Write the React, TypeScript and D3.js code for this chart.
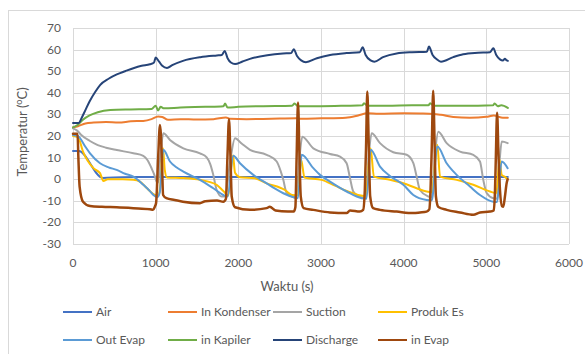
import React, { useEffect, useRef } from 'react';
import * as d3 from 'd3';

// [time (s), temperature (°C)]
const air: [number, number][] = [
  [0, 13], [70, 13], [360, 0.6], [600, 0.9], [1000, 1], [2000, 1], [3000, 1], [4000, 1], [5000, 1], [5260, 1],
];

const inKondenser: [number, number][] = [
  [0, 24], [60, 24.5], [150, 25.8], [250, 26.2], [400, 26.5], [550, 26.2], [700, 26.8], [850, 27], [950, 27.8],
  [1030, 29], [1080, 28.8], [1150, 27.5], [1300, 27.8], [1500, 27.6], [1700, 27.8], [1850, 28.6], [1900, 28],
  [2100, 27.8], [2400, 28], [2700, 28.2], [2760, 28], [3000, 28.2], [3300, 28.5], [3450, 29.5], [3560, 30.5],
  [3700, 30.3], [4000, 30.5], [4200, 30.4], [4360, 30.2], [4450, 29.8], [4600, 28.8], [4800, 28.5], [5000, 28.9],
  [5090, 29.5], [5200, 28.4], [5260, 28.4],
];

const suction: [number, number][] = [
  [0, 23.5], [50, 22.5], [100, 20.5], [200, 17.8], [300, 15.8], [400, 14.6], [530, 13.5], [730, 12], [850, 10.8],
  [900, 8.9], [950, 5.1], [992, 1.2], [1015, -1.5], [1030, -1.5], [1060, 12], [1093, 21.3], [1173, 18.2],
  [1335, 14.3], [1536, 12], [1617, 10.1], [1660, 7], [1697, 2], [1738, -5], [1798, -8], [1840, -8], [1900, 8],
  [1960, 19], [2040, 16.5], [2141, 13.6], [2343, 11.3], [2464, 8.2], [2510, 4], [2544, -0.3], [2580, -6],
  [2650, -8], [2700, -8.5], [2740, 10], [2774, 19.7], [2907, 14.3], [3109, 11.7], [3230, 10.5], [3310, 7.4],
  [3351, 0.5], [3391, -5.7], [3492, -8.3], [3540, -8.5], [3580, 12], [3613, 21.3], [3714, 16.7], [3874, 12.5],
  [4036, 11.3], [4117, 7.4], [4157, 1.2], [4197, -5], [4298, -8], [4340, -8.5], [4380, 12], [4419, 22],
  [4520, 16.7], [4681, 12.8], [4842, 11.3], [4923, 8.2], [4963, -0.3], [5004, -6.4], [5085, -8.8], [5130, -9],
  [5160, 8], [5186, 17.4], [5258, 16.7],
];

const produkEs: [number, number][] = [
  [0, 20], [60, 19.5], [121, 12.8], [250, 5], [327, 2.8], [367, -0.8], [420, 0], [600, 0], [730, -0.2],
  [810, -1.1], [895, -4.2], [992, -7.3], [1030, -7.5], [1050, -5], [1089, 14.3], [1110, 4.3], [1137, 0.8],
  [1335, 0.5], [1536, -0.3], [1738, -2.6], [1818, -5.5], [1880, -7.5], [1935, 11], [1960, 3], [2020, 0.9],
  [2200, 0.4], [2343, -1.9], [2564, -5], [2650, -7.3], [2720, -7.5], [2760, 9], [2800, 0.8], [3008, -0.3],
  [3169, -3], [3327, -5.7], [3448, -7.3], [3540, -7.8], [3600, 14.3], [3640, 1.2], [3834, -0.3], [3996, -1.9],
  [4157, -4.2], [4278, -5.7], [4340, -6], [4407, 15.9], [4440, 1.2], [4641, -0.3], [4842, -2.6], [5044, -5.7],
  [5120, -6.5], [5160, 9], [5186, 2], [5220, 1.2], [5258, 0],
];

const outEvap: [number, number][] = [
  [0, 20.5], [60, 20], [85, 19], [150, 15], [206, 12], [327, 7.4], [430, 5.5], [528, 4.3], [630, 2.5],
  [730, 1.2], [851, -2.6], [930, -5.5], [972, -7.3], [1020, -8.3], [1050, -6], [1093, 13.6], [1173, 8.2],
  [1250, 5.5], [1335, 3.5], [1536, -0.3], [1697, -4.2], [1818, -7.3], [1870, -8], [1939, 10.8], [2020, 7.4],
  [2181, 2], [2343, -1.9], [2450, -4.5], [2544, -6.5], [2680, -8.5], [2720, -8.8], [2766, 11.3], [2907, 5.1],
  [2988, 2], [3109, -1.1], [3310, -5.7], [3492, -8.8], [3550, -9], [3601, 13.6], [3714, 5.8], [3834, 1.5],
  [3996, -2.6], [4117, -7.3], [4278, -9.6], [4340, -9.8], [4407, 15.1], [4520, 7.4], [4641, 2], [4802, -3.4],
  [4923, -7.3], [5085, -10.4], [5130, -10.5], [5186, 8.2], [5258, 5.1],
];

const inKapiler: [number, number][] = [
  [0, 24], [50, 25], [120, 27.5], [200, 29.5], [300, 31], [450, 32], [700, 32.3], [950, 32.5], [1000, 34],
  [1030, 31.8], [1060, 33.5], [1100, 32.8], [1300, 33.2], [1600, 33.5], [1820, 33.8], [1840, 35], [1870, 33.2],
  [2000, 33.5], [2300, 33.8], [2650, 34], [2680, 35], [2720, 33.8], [3000, 33.8], [3300, 34], [3500, 34.2],
  [3520, 35.2], [3560, 34], [3800, 34], [4100, 34.2], [4300, 34.2], [4320, 35.2], [4360, 34], [4600, 34],
  [4900, 34], [5080, 34.2], [5100, 35], [5140, 33.8], [5180, 34.2], [5260, 33],
];

const discharge: [number, number][] = [
  [0, 26], [70, 26], [100, 28], [150, 32], [200, 36], [270, 40.5], [330, 43.7], [430, 46.5], [530, 48.5],
  [630, 50], [730, 51.4], [830, 52.5], [930, 53.2], [980, 54], [1000, 56.3], [1040, 54.5], [1080, 52.5],
  [1137, 51.5], [1200, 52.8], [1330, 54.8], [1540, 56.5], [1740, 57.3], [1800, 57.5], [1835, 59.4], [1870, 56],
  [1910, 54], [1960, 53.3], [2050, 54.5], [2140, 55.7], [2350, 57.4], [2540, 58.2], [2640, 58.4], [2670, 60.2],
  [2710, 57], [2760, 55], [2818, 54.2], [2950, 56], [3110, 57.5], [3310, 58.4], [3470, 58.8], [3504, 61.1],
  [3540, 57.5], [3600, 55], [3645, 54.4], [3750, 56.5], [3915, 58.2], [4100, 58.8], [4280, 59], [4306, 61.4],
  [4350, 57.5], [4400, 55.5], [4451, 54.4], [4600, 56.5], [4720, 57.8], [4900, 58.5], [5044, 58.8],
  [5085, 60.6], [5120, 57.5], [5165, 55.5], [5200, 55], [5225, 55.8], [5240, 55.2], [5260, 54.8],
];

const inEvap: [number, number][] = [
  [0, 21], [55, 21], [65, 10], [80, -3.4], [121, -10.4], [206, -12.4], [350, -12.8], [528, -13], [730, -13.4],
  [931, -13.9], [968, -14.2], [990, -12.7], [1005, -11], [1030, 10], [1052, 25.1], [1075, 10], [1090, -7.3],
  [1130, -8.8], [1230, -9.6], [1330, -10.4], [1536, -11.1], [1600, -10.2], [1742, -9.9], [1818, -10.4],
  [1850, -9], [1868, 10], [1887, 27.8], [1905, 10], [1920, -8], [1960, -13], [2141, -14.2], [2343, -13.4],
  [2380, -12.8], [2450, -14.5], [2600, -15], [2670, -15], [2690, -13], [2705, 10], [2722, 35.5], [2740, 10],
  [2755, -8], [2790, -13.4], [2907, -14.2], [3109, -15.4], [3310, -15.7], [3351, -14.5], [3470, -15],
  [3510, -14.2], [3530, -5], [3545, 15], [3560, 40.6], [3578, 15], [3595, -8], [3630, -13.4], [3714, -14.2],
  [3915, -15], [4117, -15.7], [4197, -15.4], [4278, -15], [4310, -14], [4325, -5], [4340, 15], [4357, 41],
  [4375, 15], [4390, -8], [4420, -12.9], [4520, -14.2], [4681, -15.4], [4842, -16.5], [4923, -15.4],
  [5044, -15], [5090, -14.5], [5105, -5], [5115, 10], [5130, 30.8], [5148, 10], [5165, -5], [5190, -12.5],
  [5205, -12.7], [5225, -8], [5245, -2], [5258, 0],
];

const seriesNames = ['Air', 'In Kondenser', 'Suction', 'Produk Es', 'Out Evap', 'in Kapiler', 'Discharge', 'in Evap'];
const seriesColors = ['#4472C4', '#ED7D31', '#A5A5A5', '#FFC000', '#5B9BD5', '#70AD47', '#264478', '#9E480E'];
const seriesData = [air, inKondenser, suction, produkEs, outEvap, inKapiler, discharge, inEvap];

const xTicks = [0, 1000, 2000, 3000, 4000, 5000, 6000];
const yTicks = [-30, -20, -10, 0, 10, 20, 30, 40, 50, 60, 70];

const FONT = "Lato, 'Open Sans', sans-serif";

export default function App() {
  const ref = useRef<SVGSVGElement>(null);

  useEffect(() => {
    const width = 585;
    const height = 354;
    const svg = d3.select(ref.current);
    svg.selectAll('*').remove();

    const x = d3.scaleLinear().domain([0, 6000]).range([73, 569]);
    const y = d3.scaleLinear().domain([-30, 70]).range([244, 28]);

    svg.append('rect')
      .attr('width', width).attr('height', height).attr('fill', '#fff');

    // chart frame
    svg.append('rect')
      .attr('x', 8.5).attr('y', 10.5)
      .attr('width', 620).attr('height', 400)
      .attr('fill', 'none').attr('stroke', '#D9D9D9');

    // gridlines
    svg.append('g').selectAll('line').data(yTicks).enter().append('line')
      .attr('x1', x(0)).attr('x2', x(6000))
      .attr('y1', d => Math.round(y(d)) + 0.5).attr('y2', d => Math.round(y(d)) + 0.5)
      .attr('stroke', '#D9D9D9');
    svg.append('g').selectAll('line').data(xTicks).enter().append('line')
      .attr('y1', y(70)).attr('y2', y(-30))
      .attr('x1', d => Math.round(x(d)) + 0.5).attr('x2', d => Math.round(x(d)) + 0.5)
      .attr('stroke', '#D9D9D9');

    // tick labels
    svg.append('g').selectAll('text').data(yTicks).enter().append('text')
      .attr('x', 61).attr('y', d => y(d) + 4)
      .attr('text-anchor', 'end')
      .style('font', `12px ${FONT}`).attr('fill', '#595959')
      .text(d => d);
    svg.append('g').selectAll('text').data(xTicks).enter().append('text')
      .attr('x', d => x(d)).attr('y', 267)
      .attr('text-anchor', 'middle')
      .style('font', `12px ${FONT}`).attr('fill', '#595959')
      .text(d => d);

    // axis titles
    svg.append('text')
      .attr('x', 287).attr('y', 291)
      .attr('text-anchor', 'middle')
      .style('font', `13px ${FONT}`).attr('fill', '#595959')
      .text('Waktu (s)');
    const yt = svg.append('text')
      .attr('transform', 'translate(27,132) rotate(-90)')
      .attr('text-anchor', 'middle')
      .style('font', `13px ${FONT}`).attr('fill', '#595959');
    yt.append('tspan').text('Temperatur (');
    yt.append('tspan').attr('dy', -5).style('font-size', '9px').text('o');
    yt.append('tspan').attr('dy', 5).text('C)');

    // series lines
    const line = d3.line<[number, number]>()
      .x(d => x(d[0]))
      .y(d => y(d[1]))
      .curve(d3.curveMonotoneX);

    svg.append('g').selectAll('path').data(seriesData).enter().append('path')
      .attr('d', d => line(d))
      .attr('fill', 'none')
      .attr('stroke', (d, i) => seriesColors[i])
      .attr('stroke-width', (d, i) => (i === 7 ? 2.5 : 2))
      .attr('stroke-linejoin', 'round')
      .attr('stroke-linecap', 'round');

    // legend
    const colX = [63, 168, 273, 378];
    const rowY = [312, 340];
    const legend = svg.append('g').selectAll('g').data(seriesNames).enter().append('g')
      .attr('transform', (d, i) => `translate(${colX[i % 4]},${rowY[Math.floor(i / 4)]})`);
    legend.append('line')
      .attr('x1', 0).attr('x2', 29).attr('y1', 0).attr('y2', 0)
      .attr('stroke', (d, i) => seriesColors[i]).attr('stroke-width', 2);
    legend.append('text')
      .attr('x', 33).attr('y', 4)
      .style('font', `12px ${FONT}`).attr('fill', '#595959')
      .text(d => d);
  }, []);

  return (
    <svg ref={ref} width={585} height={354}
      style={{ position: 'absolute', left: 0, top: 0, display: 'block' }} />
  );
}
